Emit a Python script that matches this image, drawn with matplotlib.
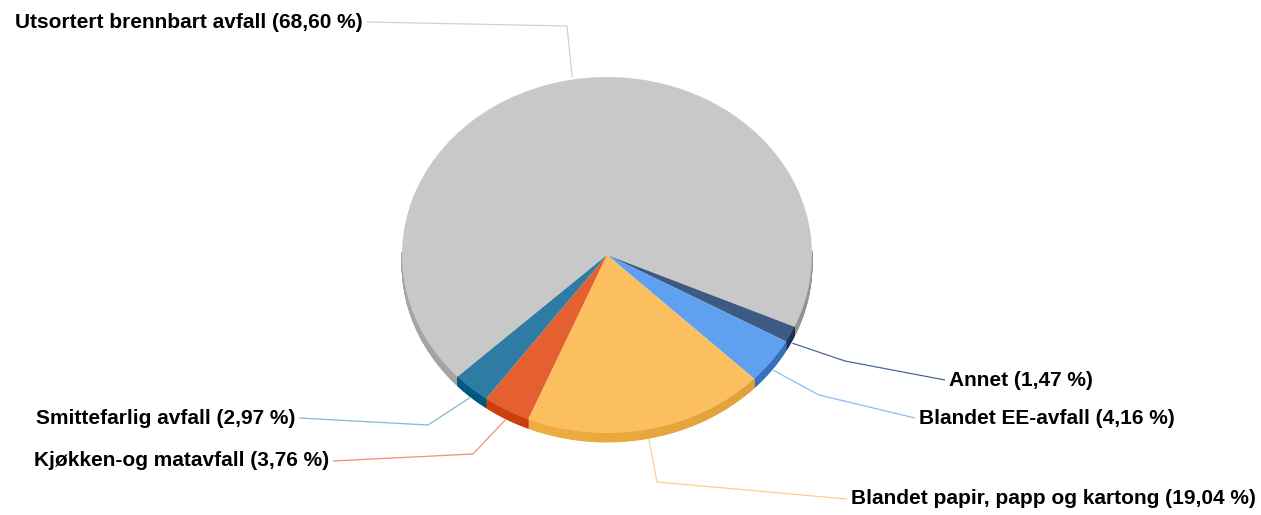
import numpy as np
import matplotlib.pyplot as plt
from matplotlib.patches import Polygon
from matplotlib.colors import to_rgb

# ---------------- data ----------------
labels = ["Utsortert brennbart avfall", "Annet", "Blandet EE-avfall",
          "Blandet papir, papp og kartong", "Kjøkken-og matavfall",
          "Smittefarlig avfall"]
shares = [68.60, 1.47, 4.16, 19.04, 3.76, 2.97]

top_colors = ["#c8c8c8", "#3d5a82", "#5fa0f0", "#fbbf5f", "#e56030", "#2e7ca4"]
side_colors = ["#9c9c9c", "#1c3557", "#3a76c4", "#eaa83c", "#c63c0c", "#005478"]
line_colors = ["#d2d2d2", "#4d6890", "#8cbcf4", "#fdd08a", "#f09070", "#86b8d0"]

# ---------------- layout (pixels) ----------------
W, H = 1261, 515
cx, cy = 607, 255          # pie centre
rx, ry = 205, 178          # ellipse radii of the top face
depth = 9 / ry             # rim thickness in data units
start = 223.16             # first slice starts here, goes clockwise

# text anchor, elbow of leader line, alignment
text_pos = [(363, 22), (949, 380), (919, 418), (851, 499), (329, 461), (295, 418)]
elbows = [(567, 26), (845, 361), (819, 395), (657, 482), (473, 454), (428, 425)]
aligns = ["right", "left", "left", "left", "right", "right"]


def px(x, y):
    return (x - cx) / rx, (cy - y) / ry


fig = plt.figure(figsize=(W / 100, H / 100), dpi=100)
ax = fig.add_axes([0, 0, 1, 1])
ax.axis("off")

fracs = np.array(shares) / np.sum(shares)
edges = start - 360 * np.concatenate([[0], np.cumsum(fracs)])

# side walls (only the front half is visible)
for i in range(len(shares)):
    a_hi, a_lo = edges[i], edges[i + 1]
    ts = np.linspace(a_lo, a_hi, max(int((a_hi - a_lo) * 2), 2))
    base = np.array(to_rgb(side_colors[i]))
    for t1, t2 in zip(ts[:-1], ts[1:]):
        if np.sin(np.radians((t1 + t2) / 2)) > 0.02:
            continue
        r1, r2 = np.radians(t1), np.radians(t2)
        shade = 1 + 0.06 * (-np.cos((r1 + r2) / 2))
        col = np.clip(base * shade, 0, 1)
        quad = [(np.cos(r1), np.sin(r1)), (np.cos(r2), np.sin(r2)),
                (np.cos(r2), np.sin(r2) - depth), (np.cos(r1), np.sin(r1) - depth)]
        ax.add_patch(Polygon(quad, closed=True, facecolor=col, edgecolor=col,
                             lw=0.6, zorder=1))

# top face
ax.pie(shares, colors=top_colors, startangle=start, counterclock=False,
       radius=1, center=(0, 0), wedgeprops=dict(linewidth=0, zorder=2))

# leader lines and labels
for i, lab in enumerate(labels):
    mid = np.radians((edges[i] + edges[i + 1]) / 2)
    ax_ = np.cos(mid) * 1.01
    ay_ = np.sin(mid) * 1.01
    if np.sin(mid) < 0:
        ay_ -= depth * 0.9
    ex, ey = px(*elbows[i])
    tx, ty = px(*text_pos[i])
    gap = 4 / rx if aligns[i] == "right" else -4 / rx
    ax.plot([ax_, ex, tx + gap], [ay_, ey, ty], color=line_colors[i], lw=0.9,
            zorder=3, solid_capstyle="butt")
    txt = f"{lab} ({shares[i]:.2f} %)".replace(".", ",")
    ax.text(tx, ty, txt, ha=aligns[i], va="center", fontsize=15,
            fontweight="bold", family="Liberation Sans", color="#000000", zorder=4)

ax.set_aspect("auto")
ax.set_xlim((0 - cx) / rx, (W - cx) / rx)
ax.set_ylim((cy - H) / ry, cy / ry)

fig.savefig("out.png", dpi=100)
